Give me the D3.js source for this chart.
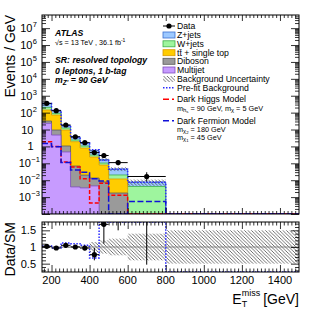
<!DOCTYPE html>
<html>
<head>
<meta charset="utf-8">
<script src="https://cdn.jsdelivr.net/npm/d3@7"></script>
<style>
body { margin: 0; background: #fff; }
text { font-family: "Liberation Sans", Arial, Helvetica, sans-serif; white-space: pre; }
</style>
</head>
<body>
<div id="chart"></div>
<script>
// 1: DATA (events / GeV)
const binEdges = [150, 200, 250, 300, 350, 400, 450, 500, 600, 800, 1500];

const multijet = [23.3, 4.7, 0.47, 0.004, 0.0035, 0.0046, 0, 0, 0, 0];
const diboson  = [8.5, 4.6, 0.59, 0.065, 0.0165, 0.0088, 0.0078, 0.00174, 0, 0];
const ttbar    = [111, 62.7, 8.24, 1.83, 0.78, 0.223, 0.071, 0.0101, 0, 0];
const wjets    = [63, 19, 3.0, 0.49, 0.26, 0.074, 0.025, 0.0086, 0.00424, 0];
const zjets    = [139, 42, 5.2, 1.36, 0.67, 0.25, 0.066, 0.0256, 0.0036, 0];
const bkgUnc   = [0.02, 0.02, 0.03, 0.03, 0.05, 0.15, 0.2, 0.25, 0.4, 0.5]; // relative
const prefitBkg = [345, 134, 16.5, 3.4, 1.6, 0.64, 0.15, 0.045, 0.0075, 0];

const dataVals  = [355, 130, 18.5, 3.7, 1.66, 0.43, 0.29, 0.11, 0.0166];
const dataErrLo = [3, 1.6, 0.6, 0.27, 0.18, 0.09, 0.07, 0.033, 0.008];
const dataErrHi = [3, 1.6, 0.6, 0.27, 0.18, 0.09, 0.09, 0.04, 0.013];

const darkHiggs   = [1.9, 1.0, 0.12, 0.06, 0.012, 0.00045, 0.0065, 0.0013, 0, 0];
const darkFermion = [1.5, 0.95, 0.11, 0.04, 0.03, 0.012, 0.009, 0, 0.00055, 0];

// lower panel
const ratioVals  = [1.02, 0.97, 1.05, 1.0, 0.97, 0.77, 1.68, 2.4, 2.1];
const ratioErrLo = [0.02, 0.02, 0.04, 0.05, 0.08, 0.17, 0.58, 0.9, 1.63];
const ratioErrHi = [0.02, 0.02, 0.04, 0.05, 0.08, 0.2, 0.5, 0.9, 2.5];
const prefitRatio = [1.03, 0.97, 1.12, 1.1, 1.05, 0.67, 3, 3, 3, 0];

const yTickPowers = [-3, -2, -1, 0, 1, 2, 3, 4, 5, 6, 7];
const xTickLabels = [200, 400, 600, 800, 1000, 1200, 1400];
const ratioTickLabels = [0.5, 1, 1.5];

// 2: LAYOUT
const W = 324, H = 311;
const left = 42, right = 299;
const mainTop = 15, mainBottom = 214, ratioTop = 222, ratioBottom = 272;

const svg = d3.select("#chart").append("svg")
    .attr("width", W).attr("height", H)
    .style("background", "#fff");

const defs = svg.append("defs");
defs.append("clipPath").attr("id", "clipMain").append("rect")
    .attr("x", left).attr("y", mainTop).attr("width", right - left).attr("height", mainBottom - mainTop);
defs.append("clipPath").attr("id", "clipRatio").append("rect")
    .attr("x", left).attr("y", ratioTop).attr("width", right - left).attr("height", ratioBottom - ratioTop);
defs.append("pattern").attr("id", "hatch")
    .attr("patternUnits", "userSpaceOnUse").attr("width", 3.5).attr("height", 3.5)
    .append("path").attr("d", "M-1,-1 L4.5,4.5 M-1,2.5 L1,4.5 M2.5,-1 L4.5,1")
    .attr("stroke", "#333").attr("stroke-width", 0.7);

// scales
const x = d3.scaleLinear().domain([150, 1500]).range([left, right]);
const y = d3.scaleLog().domain([1e-4, 6e7]).range([mainBottom, mainTop]).clamp(true);
const yr = d3.scaleLinear().domain([0.25, 1.75]).range([ratioBottom, ratioTop]).clamp(true);

const centers = binEdges.slice(0, -1).map((e, i) => (e + binEdges[i + 1]) / 2);
const stepPts = vals => binEdges.map((e, i) => [e, vals[Math.min(i, vals.length - 1)]]);
const safe = v => Math.max(v, 1e-7);

// stack layers, bottom to top
const layers = [
    { name: "Multijet", vals: multijet, fill: "#c79bff", stroke: "#7f4fbf" },
    { name: "Diboson", vals: diboson, fill: "#9a9a9a", stroke: "#5a5a5a" },
    { name: "ttbar", vals: ttbar, fill: "#ffcc00", stroke: "#d99a00" },
    { name: "W+jets", vals: wjets, fill: "#9ef59e", stroke: "#3cae4a" },
    { name: "Z+jets", vals: zjets, fill: "#9dc9ff", stroke: "#3a6fd0" }
];
let run = new Array(binEdges.length - 1).fill(0);
layers.forEach(L => {
    run = run.map((r, i) => r + L.vals[i]);
    L.top = run.slice();
});
const total = run.slice();

// 3: MAIN PANEL
const gMain = svg.append("g").attr("clip-path", "url(#clipMain)");

const stepArea = d3.area().curve(d3.curveStepAfter)
    .x(d => x(d[0])).y0(mainBottom).y1(d => y(safe(d[1])));
const stepLine = d3.line().curve(d3.curveStepAfter)
    .x(d => x(d[0])).y(d => y(safe(d[1])));

gMain.selectAll("path.stack")
    .data(layers.slice().reverse())
    .join("path")
    .attr("class", "stack")
    .attr("d", d => stepArea(stepPts(d.top)))
    .attr("fill", d => d.fill)
    .attr("stroke", d => d.stroke)
    .attr("stroke-width", 0.8);

// uncertainty band
const uncBins = total.map((t, i) => ({ i, t, u: bkgUnc[i] })).filter(d => d.t > 0);
gMain.selectAll("rect.unc")
    .data(uncBins)
    .join("rect")
    .attr("class", "unc")
    .attr("x", d => x(binEdges[d.i]))
    .attr("width", d => x(binEdges[d.i + 1]) - x(binEdges[d.i]))
    .attr("y", d => y(d.t * (1 + d.u)))
    .attr("height", d => y(safe(d.t * (1 - d.u))) - y(d.t * (1 + d.u)))
    .attr("fill", "url(#hatch)");

// pre-fit and signals
gMain.append("path")
    .attr("d", stepLine(stepPts(prefitBkg)))
    .attr("fill", "none").attr("stroke", "#2a2aff")
    .attr("stroke-width", 1.5).attr("stroke-dasharray", "1.5,1.5");

gMain.append("path")
    .attr("d", stepLine(stepPts(darkHiggs)))
    .attr("fill", "none").attr("stroke", "#ff0000")
    .attr("stroke-width", 1.5).attr("stroke-dasharray", "4,2");

gMain.append("path")
    .attr("d", stepLine(stepPts(darkFermion)))
    .attr("fill", "none").attr("stroke", "#1010d8")
    .attr("stroke-width", 1.5).attr("stroke-dasharray", "6,2.5");

// data
const dataPts = dataVals.map((v, i) => ({ v, i, lo: dataErrLo[i], hi: dataErrHi[i] }));
gMain.selectAll("line.dx")
    .data(dataPts).join("line").attr("class", "dx")
    .attr("x1", d => x(binEdges[d.i])).attr("x2", d => x(binEdges[d.i + 1]))
    .attr("y1", d => y(d.v)).attr("y2", d => y(d.v))
    .attr("stroke", "#000").attr("stroke-width", 1);
gMain.selectAll("line.dy")
    .data(dataPts).join("line").attr("class", "dy")
    .attr("x1", d => x(centers[d.i])).attr("x2", d => x(centers[d.i]))
    .attr("y1", d => y(safe(d.v - d.lo))).attr("y2", d => y(d.v + d.hi))
    .attr("stroke", "#000").attr("stroke-width", 1);
gMain.selectAll("circle.data")
    .data(dataPts).join("circle").attr("class", "data")
    .attr("cx", d => x(centers[d.i])).attr("cy", d => y(d.v))
    .attr("r", 2.6).attr("fill", "#000");

// 4: RATIO PANEL
const gRatio = svg.append("g").attr("clip-path", "url(#clipRatio)");

gRatio.selectAll("rect.runc")
    .data(bkgUnc.map((u, i) => ({ u, i })))
    .join("rect").attr("class", "runc")
    .attr("x", d => x(binEdges[d.i]))
    .attr("width", d => x(binEdges[d.i + 1]) - x(binEdges[d.i]))
    .attr("y", d => yr(1 + d.u))
    .attr("height", d => yr(1 - d.u) - yr(1 + d.u))
    .attr("fill", "url(#hatch)");

gRatio.append("line")
    .attr("x1", left).attr("x2", right).attr("y1", yr(1)).attr("y2", yr(1))
    .attr("stroke", "#666").attr("stroke-width", 0.7);

const ratioLine = d3.line().curve(d3.curveStepAfter)
    .x(d => x(d[0])).y(d => yr(d[1]));
gRatio.append("path")
    .attr("d", ratioLine(stepPts(prefitRatio)))
    .attr("fill", "none").attr("stroke", "#2a2aff")
    .attr("stroke-width", 1.5).attr("stroke-dasharray", "1.5,1.5");

const ratioPts = ratioVals.map((v, i) => ({ v, i, lo: ratioErrLo[i], hi: ratioErrHi[i] }));
const inRange = d => d.v >= 0.25 && d.v <= 1.75;
gRatio.selectAll("line.rx")
    .data(ratioPts.filter(inRange)).join("line").attr("class", "rx")
    .attr("x1", d => x(binEdges[d.i])).attr("x2", d => x(binEdges[d.i + 1]))
    .attr("y1", d => yr(d.v)).attr("y2", d => yr(d.v))
    .attr("stroke", "#000").attr("stroke-width", 1);
gRatio.selectAll("line.ry")
    .data(ratioPts).join("line").attr("class", "ry")
    .attr("x1", d => x(centers[d.i])).attr("x2", d => x(centers[d.i]))
    .attr("y1", d => yr(d.v - d.lo)).attr("y2", d => yr(d.v + d.hi))
    .attr("stroke", "#000").attr("stroke-width", 1);
gRatio.selectAll("circle.rdata")
    .data(ratioPts.filter(inRange)).join("circle").attr("class", "rdata")
    .attr("cx", d => x(centers[d.i])).attr("cy", d => yr(d.v))
    .attr("r", 2.6).attr("fill", "#000");

// 5: AXES (ticks inside, ROOT style)
function ticks(g, axis, vals, size) {
    g.call(axis.tickValues(vals).tickSize(size).tickFormat(""));
    g.select(".domain").remove();
    g.selectAll("line").attr("stroke", "#000").attr("stroke-width", 0.8);
}
const logMajors = d3.range(-4, 8).map(p => Math.pow(10, p));
const logMinors = [];
d3.range(-4, 8).forEach(p => d3.range(2, 10).forEach(k => {
    const v = k * Math.pow(10, p);
    if (v < 6e7) logMinors.push(v);
}));
const xMajors = d3.range(200, 1500, 200);
const xMinors = d3.range(160, 1500, 20).filter(v => v % 200 !== 0);
const rMajors = [0.5, 1, 1.5];
const rMinors = d3.range(0.3, 1.75, 0.1).map(v => +v.toFixed(2)).filter(v => ![0.5, 1, 1.5].includes(v));

const axes = svg.append("g");
ticks(axes.append("g").attr("transform", `translate(${left},0)`), d3.axisLeft(y), logMajors, -8);
ticks(axes.append("g").attr("transform", `translate(${left},0)`), d3.axisLeft(y), logMinors, -4);
ticks(axes.append("g").attr("transform", `translate(${right},0)`), d3.axisRight(y), logMajors, -8);
ticks(axes.append("g").attr("transform", `translate(${right},0)`), d3.axisRight(y), logMinors, -4);
ticks(axes.append("g").attr("transform", `translate(0,${mainBottom})`), d3.axisBottom(x), xMajors, -6);
ticks(axes.append("g").attr("transform", `translate(0,${mainBottom})`), d3.axisBottom(x), xMinors, -3);
ticks(axes.append("g").attr("transform", `translate(0,${mainTop})`), d3.axisTop(x), xMajors, -6);
ticks(axes.append("g").attr("transform", `translate(0,${mainTop})`), d3.axisTop(x), xMinors, -3);

ticks(axes.append("g").attr("transform", `translate(${left},0)`), d3.axisLeft(yr), rMajors, -8);
ticks(axes.append("g").attr("transform", `translate(${left},0)`), d3.axisLeft(yr), rMinors, -4);
ticks(axes.append("g").attr("transform", `translate(${right},0)`), d3.axisRight(yr), rMajors, -8);
ticks(axes.append("g").attr("transform", `translate(${right},0)`), d3.axisRight(yr), rMinors, -4);
ticks(axes.append("g").attr("transform", `translate(0,${ratioBottom})`), d3.axisBottom(x), xMajors, -7);
ticks(axes.append("g").attr("transform", `translate(0,${ratioBottom})`), d3.axisBottom(x), xMinors, -3.5);
ticks(axes.append("g").attr("transform", `translate(0,${ratioTop})`), d3.axisTop(x), xMajors, -7);
ticks(axes.append("g").attr("transform", `translate(0,${ratioTop})`), d3.axisTop(x), xMinors, -3.5);

// frames
[[mainTop, mainBottom], [ratioTop, ratioBottom]].forEach(([t, b]) => {
    svg.append("rect")
        .attr("x", left).attr("y", t).attr("width", right - left).attr("height", b - t)
        .attr("fill", "none").attr("stroke", "#000").attr("stroke-width", 1);
});

// tick labels
const yLab = svg.append("g").style("font-size", "11px");
yTickPowers.forEach(p => {
    const ty = y(Math.pow(10, p)) + 4;
    if (p === 0 || p === 1) {
        yLab.append("text").attr("x", 33.5).attr("y", ty).attr("text-anchor", "end")
            .text(p === 0 ? "1" : "10");
    } else {
        const bx = p < 0 ? 31 : 32.5;
        yLab.append("text").attr("x", bx).attr("y", ty).attr("text-anchor", "end").text("10");
        yLab.append("text").attr("x", bx + 0.3).attr("y", ty - 5)
            .style("font-size", "7.5px").text(p < 0 ? "\u2212" + (-p) : String(p));
    }
});
ratioTickLabels.forEach(v => {
    svg.append("text").attr("x", 36).attr("y", yr(v) + 4).attr("text-anchor", "end")
        .style("font-size", "11px").text(String(v));
});
xTickLabels.forEach(v => {
    svg.append("text").attr("x", x(v)).attr("y", 284).attr("text-anchor", "middle")
        .style("font-size", "11px").text(String(v));
});

// axis titles
svg.append("text")
    .attr("transform", "translate(15,15) rotate(-90)")
    .attr("text-anchor", "end").style("font-size", "14px")
    .text("Events / GeV");
svg.append("text")
    .attr("transform", `translate(15,${ratioTop}) rotate(-90)`)
    .attr("text-anchor", "end").style("font-size", "14px")
    .text("Data/SM");

const gev = svg.append("text").attr("x", right).attr("y", 304)
    .attr("text-anchor", "end").style("font-size", "14px").text("[GeV]");
const gevStart = right - gev.node().getComputedTextLength();
const miss = svg.append("text").attr("x", gevStart - 3).attr("y", 296)
    .attr("text-anchor", "end").style("font-size", "9px").text("miss");
const missStart = gevStart - 3 - miss.node().getComputedTextLength();
svg.append("text").attr("x", missStart).attr("y", 307).style("font-size", "9px").text("T");
svg.append("text").attr("x", missStart).attr("y", 304)
    .attr("text-anchor", "end").style("font-size", "14px").text("E");

// 6: LABELS AND LEGEND
function rich(x0, y0, parts, size, style) {
    const t = svg.append("text").attr("x", x0).attr("y", y0).style("font-size", size + "px");
    if (style) Object.entries(style).forEach(([k, v]) => t.style(k, v));
    let cur = 0;
    parts.forEach(p => {
        const off = p.o || 0;
        t.append("tspan").attr("dy", off - cur).style("font-size", (p.s || size) + "px").text(p.t);
        cur = off;
    });
    return t;
}
const bi = { "font-weight": "bold", "font-style": "italic" };
rich(55, 36, [{ t: "ATLAS" }], 8.7, bi);
rich(55, 45, [{ t: "\u221As = 13 TeV , 36.1 fb" }, { t: "-1", o: -3, s: 5 }], 7.2);
rich(55, 63, [{ t: "SR: resolved topology" }], 8.7, bi);
rich(55, 73.5, [{ t: "0 leptons, 1 b-tag" }], 8.7, bi);
rich(55, 83, [{ t: "m" }, { t: "Z'", o: 2, s: 6.5 }, { t: " = 90 GeV" }], 8.7, bi);

const lx = 163, lw = 12, tx = 177, fs = 8.7, fsub = 7.3;
const leg = svg.append("g");
// data
leg.append("line").attr("x1", lx).attr("x2", lx + lw).attr("y1", 26).attr("y2", 26)
    .attr("stroke", "#000").attr("stroke-width", 1);
leg.append("circle").attr("cx", lx + lw / 2).attr("cy", 26).attr("r", 2.6).attr("fill", "#000");
rich(tx, 29, [{ t: "Data" }], fs);
// stack boxes
const boxY = [35, 43.8, 52.7, 61.3, 70];
layers.slice().reverse().forEach((L, k) => {
    leg.append("rect").attr("x", lx).attr("y", boxY[k] - 3).attr("width", lw).attr("height", 6)
        .attr("fill", L.fill).attr("stroke", L.stroke).attr("stroke-width", 0.8);
});
rich(tx, 38.1, [{ t: "Z+jets" }], fs);
rich(tx, 46.9, [{ t: "W+jets" }], fs);
rich(tx, 55.8, [{ t: "tt\u0304 + single top" }], fs);
rich(tx, 64.4, [{ t: "Diboson" }], fs);
rich(tx, 73.1, [{ t: "Multijet" }], fs);
leg.append("rect").attr("x", lx).attr("y", 76).attr("width", lw).attr("height", 6).attr("fill", "url(#hatch)");
rich(tx, 82.1, [{ t: "Background Uncertainty" }], fs);
leg.append("line").attr("x1", lx).attr("x2", lx + lw).attr("y1", 87.7).attr("y2", 87.7)
    .attr("stroke", "#2a2aff").attr("stroke-width", 1.5).attr("stroke-dasharray", "1.5,1.5");
rich(tx, 90.8, [{ t: "Pre-fit Background" }], fs);
leg.append("line").attr("x1", lx).attr("x2", lx + lw).attr("y1", 99.3).attr("y2", 99.3)
    .attr("stroke", "#ff0000").attr("stroke-width", 1.5).attr("stroke-dasharray", "6,3,2,3");
rich(tx, 102.4, [{ t: "Dark Higgs Model" }], fs);
rich(tx, 110.8, [{ t: "m" }, { t: "h", o: 1.5, s: 5.8 }, { t: "s", o: 2.6, s: 4.3 },
    { t: " = 90 GeV, m" }, { t: "\u03C7", o: 1.5, s: 5.8 }, { t: " = 5 GeV" }], fsub);
leg.append("line").attr("x1", lx).attr("x2", lx + lw).attr("y1", 120.7).attr("y2", 120.7)
    .attr("stroke", "#1010d8").attr("stroke-width", 1.5).attr("stroke-dasharray", "6,3,2,3");
rich(tx, 123.8, [{ t: "Dark Fermion Model" }], fs);
rich(tx, 131.7, [{ t: "m" }, { t: "\u03C7", o: 1.5, s: 5.8 }, { t: "2", o: 2.6, s: 4.3 }, { t: " = 180 GeV" }], fsub);
rich(tx, 139.7, [{ t: "m" }, { t: "\u03C7", o: 1.5, s: 5.8 }, { t: "1", o: 2.6, s: 4.3 }, { t: " = 45 GeV" }], fsub);
</script>
</body>
</html>
